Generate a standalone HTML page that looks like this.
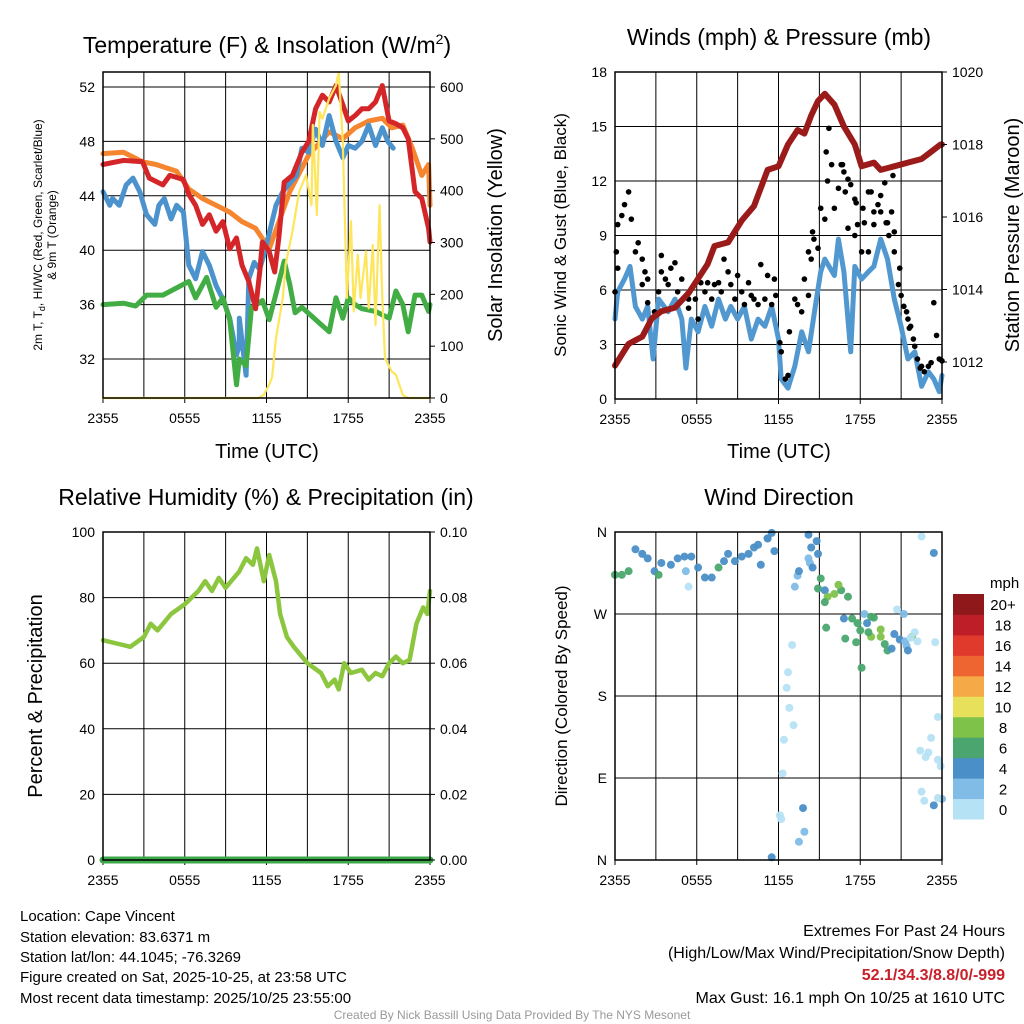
<!DOCTYPE html>
<html><head><meta charset="utf-8">
<style>
html,body{margin:0;padding:0;background:#fff;}
svg{display:block;font-family:"Liberation Sans",sans-serif;}
</style></head>
<body>
<svg id="fig" width="1024" height="1024" viewBox="0 0 1024 1024" xmlns="http://www.w3.org/2000/svg">
<rect width="1024" height="1024" fill="#fff"/>
<g id="layer"></g>
<text x="267" y="53" font-size="23" text-anchor="middle">Temperature (F) &amp; Insolation (W/m<tspan dy="-9" font-size="14">2</tspan><tspan dy="9">)</tspan></text>
<text x="779" y="45" font-size="23" text-anchor="middle">Winds (mph) &amp; Pressure (mb)</text>
<text x="266" y="505" font-size="23" text-anchor="middle">Relative Humidity (%) &amp; Precipitation (in)</text>
<text x="779" y="505" font-size="23" text-anchor="middle">Wind Direction</text>
<text transform="translate(42,235) rotate(-90)" font-size="12" text-anchor="middle">2m T, T<tspan dy="3" font-size="9">d</tspan><tspan dy="-3">, HI/WC (Red, Green, Scarlet/Blue)</tspan></text>
<text transform="translate(56,235) rotate(-90)" font-size="12" text-anchor="middle">&amp; 9m T (Orange)</text>
<text transform="translate(502,235) rotate(-90)" font-size="20" text-anchor="middle">Solar Insolation (Yellow)</text>
<text x="267" y="458" font-size="20" text-anchor="middle">Time (UTC)</text>
<text transform="translate(566,235) rotate(-90)" font-size="17" text-anchor="middle">Sonic Wind &amp; Gust (Blue, Black)</text>
<text transform="translate(1019,235) rotate(-90)" font-size="20" text-anchor="middle">Station Pressure (Maroon)</text>
<text x="779" y="458" font-size="20" text-anchor="middle">Time (UTC)</text>
<text transform="translate(42,696) rotate(-90)" font-size="20" text-anchor="middle">Percent &amp; Precipitation</text>
<text transform="translate(567,696) rotate(-90)" font-size="17" text-anchor="middle">Direction (Colored By Speed)</text>
<text x="990" y="588" font-size="15">mph</text>
<g font-size="15">
<text x="20" y="921">Location: Cape Vincent</text>
<text x="20" y="942">Station elevation: 83.6371 m</text>
<text x="20" y="962">Station lat/lon: 44.1045; -76.3269</text>
<text x="20" y="982">Figure created on Sat, 2025-10-25, at 23:58 UTC</text>
<text x="20" y="1003">Most recent data timestamp: 2025/10/25 23:55:00</text>
</g>
<g font-size="16" text-anchor="end">
<text x="1005" y="936">Extremes For Past 24 Hours</text>
<text x="1005" y="958">(High/Low/Max Wind/Precipitation/Snow Depth)</text>
<text x="1005" y="980" fill="#c8202a" font-weight="bold">52.1/34.3/8.8/0/-999</text>
<text x="1005" y="1003">Max Gust: 16.1 mph On 10/25 at 1610 UTC</text>
</g>
<text x="512" y="1019" font-size="12" fill="#999" text-anchor="middle">Created By Nick Bassill Using Data Provided By The NYS Mesonet</text>
</svg>
<script>
// ---- data ----
const timeTickLabels = ["2355","0555","1155","1755","2355"];
const tempTickLabels = ["32","36","40","44","48","52"];
const tempTickValues = [32,36,40,44,48,52];
const solarTickValues = [0,100,200,300,400,500,600];
const windTickValues = [0,3,6,9,12,15,18];
const presTickValues = [1012,1014,1016,1018,1020];
const rhTickValues = [0,20,40,60,80,100];
const precipTickLabels = ["0.00","0.02","0.04","0.06","0.08","0.10"];
const dirTickLabels = ["N","E","S","W","N"];
const colorbarLabels = ["0","2","4","6","8","10","12","14","16","18","20+"];
const colorbarColors = ["#b6e2f6","#80bce6","#4a8fc7","#4aa66e","#7fc24a","#e6e05a","#f6aa47","#ef6531","#e03a2c","#be1e27","#8f181b"];

const redH = [0,1.5,2.9,3.4,4.4,4.9,5.9,6.3,6.8,7.3,7.8,8.3,8.8,9.3,9.8,10.2,10.7,11.2,11.5,11.7,12.2,12.6,12.9,13.3,13.9,14.6,15.1,15.6,16.1,16.6,17.1,17.6,18.0,18.5,19.0,19.5,20.0,20.5,21.0,21.5,22.0,22.4,22.9,23.4,23.9,24];
const redT = [46.3,46.6,46.5,45.3,44.8,45.5,45.2,44.1,43.3,41.9,42.6,41.4,42.1,40.1,40.9,38.9,37.7,35.7,38.4,40.6,39.9,38.4,40.9,45.0,45.5,47.2,48.0,50.4,51.4,50.9,52.1,50.7,49.5,49.9,50.4,50.4,50.9,52.1,49.5,49.3,49.0,48.2,44.3,43.8,41.6,40.6];
const orangeH = [0,1.5,2.9,3.9,5.4,6.3,7.3,8.3,9.3,10.2,11.2,12.2,13.7,15.1,16.6,17.6,18.5,19.5,20.5,21.2,22.0,22.7,23.4,23.9,24];
const orangeT = [47.1,47.2,46.5,46.3,45.8,44.5,43.8,43.3,42.8,42.1,41.6,40.1,44.3,47.0,48.7,48.2,49.0,49.5,49.7,49.0,49.2,47.5,45.5,46.3,43.3];
const blueH = [0,0.5,0.7,1.2,1.7,2.2,2.7,3.2,3.8,4.1,4.5,5.0,5.4,5.9,6.3,6.8,7.3,7.8,8.3,8.8,9.3,9.8,10.0,10.0,10.5,10.7,11.1,11.5,11.9,12.7,13.2,14.2,14.6,15.1,15.6,16.1,16.6,17.1,17.6,18.0,18.5,19.0,19.5,20.0,20.5,20.9,21.3];
const blueT = [44.3,43.3,43.8,43.3,44.8,45.3,44.3,42.6,41.9,43.3,43.8,42.3,43.3,42.8,38.9,37.9,39.9,38.9,37.4,36.4,35.0,32.3,33.0,35.0,30.8,37.9,39.1,38.6,40.0,43.3,44.3,45.5,47.5,47.2,48.9,47.7,49.9,48.0,46.8,47.7,47.5,48.0,49.2,47.7,49.0,48.0,47.5];
const greenH = [0,1.5,2.4,3.2,4.4,6.3,6.8,7.6,8.3,8.8,9.3,9.8,10.0,10.5,10.9,11.0,11.7,12.2,12.7,13.3,13.7,14.1,14.6,15.6,16.6,17.1,17.6,18.0,18.5,19.0,20.0,21.0,21.5,22.0,22.4,22.9,23.4,23.9,24];
const greenT = [36.0,36.1,35.9,36.7,36.7,37.7,36.5,38.0,35.8,36.5,34.9,30.1,32.0,31.5,35.8,35.8,36.3,34.9,36.8,39.2,37.5,35.4,35.8,34.9,34.0,36.5,35.0,36.5,36.0,35.7,35.5,35.0,37.0,36.0,34.0,36.7,36.7,35.5,36.0];
const solarH = [0,11.4,11.8,12.2,12.4,12.7,13.2,13.4,13.9,14.4,14.9,15.3,15.4,15.7,15.9,16.1,16.6,17.1,17.3,17.6,17.9,18.2,18.4,18.7,18.9,19.3,19.5,19.8,20.0,20.3,20.5,20.7,21.2,21.5,22.0,22.4,24];
const solarW = [0,0,6,26,39,116,193,257,321,398,430,372,527,353,552,539,578,603,629,494,193,341,167,276,193,283,173,295,141,372,193,77,51,45,6,0,0];

const sonicH = [0,0.2,0.7,1.1,1.5,2.0,2.4,2.8,3.2,3.9,4.4,4.9,5.2,5.6,6.1,6.6,7.1,7.6,8.1,8.5,9.0,9.5,10.0,10.5,11.0,11.5,12.0,12.2,12.7,13.2,13.7,14.2,14.7,15.1,15.4,16.1,16.4,16.8,17.3,17.6,18.1,18.6,19.0,19.5,20.0,20.5,21.0,21.5,22.0,22.5,23.0,23.4,23.8,24];
const sonicV = [4.4,5.9,6.6,7.3,5.1,4.4,5.1,2.2,5.5,4.8,5.5,4.4,1.7,4.4,3.7,5.1,4.0,5.5,4.4,5.1,4.4,5.1,3.3,4.4,4.0,5.1,3.3,1.1,0.6,1.8,3.7,2.6,5.1,7.0,7.7,6.8,8.8,7.0,2.6,7.3,6.6,7.0,7.3,8.8,7.7,5.5,4.0,2.2,2.6,0.7,1.5,1.1,0.4,1.3];
const gustH = [0,0.1,0.2,0.5,0.7,1.0,1.2,0.2,1.5,1.7,2.0,2.2,2.0,2.4,2.4,2.9,3.2,3.4,3.4,3.7,3.9,4.1,4.4,4.6,4.9,5.4,5.4,5.9,6.1,6.3,6.6,6.8,7.1,7.3,7.6,7.8,8.0,8.3,8.5,8.8,9.0,9.3,9.5,9.8,10.0,10.2,10.5,10.7,11.0,11.2,11.5,11.7,11.8,12.1,12.2,12.5,12.7,12.8,13.2,13.4,13.7,13.9,14.2,14.2,14.4,14.5,14.6,14.9,15.1,15.4,15.5,15.6,15.9,15.7,16.1,16.4,16.6,16.7,16.8,16.9,17.1,17.3,17.6,17.7,17.1,17.6,17.8,18.1,18.2,18.3,18.6,18.6,18.8,19.0,19.0,19.3,19.5,19.5,19.8,19.9,20.0,20.1,20.3,20.4,20.5,20.5,20.8,20.9,21.0,21.2,21.4,21.5,21.6,21.7,21.9,22.0,22.2,22.4,22.5,22.7,23.0,23.2,23.6,23.4,23.8,24.0];
const gustV = [5.9,8.1,9.6,10.1,10.7,11.4,9.9,7.2,8.1,8.6,7.7,7.0,6.3,6.6,5.3,4.8,5.9,7.9,7.0,6.6,6.3,7.2,7.5,5.9,6.6,5.5,5.0,5.5,4.4,6.4,5.9,6.4,5.5,6.3,6.4,5.9,7.7,7.0,6.3,5.5,6.8,5.9,5.2,6.4,5.7,5.5,5.2,7.4,5.5,6.8,5.2,6.6,5.7,3.1,2.6,1.1,1.3,3.7,5.5,5.2,4.8,6.6,5.7,8.1,7.7,9.2,8.8,8.3,10.5,9.9,13.6,12.0,12.9,14.9,10.5,11.6,12.9,12.9,12.5,11.4,12.1,11.8,11.0,10.8,9.4,9.0,9.6,8.1,10.5,9.7,8.1,11.4,11.4,9.6,10.3,10.7,11.2,10.3,11.9,9.7,9.7,9.0,10.3,12.3,9.2,8.1,6.3,7.2,5.7,5.1,4.8,4.4,3.9,4.0,3.3,2.9,2.2,1.7,1.8,1.5,1.8,2.0,3.5,5.3,2.2,2.1];
const presH = [0,0.5,1.0,2.0,2.7,3.4,4.4,5.4,6.1,6.8,7.3,8.3,9.3,10.2,11.0,11.2,12.0,12.7,13.4,13.9,14.4,14.9,15.4,16.1,16.8,17.6,18.1,19.0,19.5,20.5,21.5,22.5,23.2,23.9,24];
const presMb = [1011.9,1012.2,1012.5,1012.7,1013.2,1013.4,1013.5,1013.9,1014.3,1014.7,1015.2,1015.3,1015.9,1016.3,1017.1,1017.3,1017.4,1018.0,1018.4,1018.3,1018.8,1019.2,1019.4,1019.1,1018.5,1018.0,1017.4,1017.5,1017.3,1017.4,1017.5,1017.6,1017.8,1018.0,1018.0];

const rhH = [0,1,2,3,3.5,4,5,6,7,7.5,8,8.5,9,10,10.5,11,11.3,11.8,12.2,12.7,13,13.5,14,15,16,16.5,17,17.3,17.7,18.2,19,19.5,20,20.5,21,21.5,22,22.5,23,23.5,23.8,24];
const rhPct = [67,66,65,68,72,70,75,78,82,85,82,86,83,88,92,90,95,85,93,85,75,68,65,60,57,53,55,52,60,57,58,55,57,56,60,62,60,61,72,77,75,82];
const precipH = [0,24];
const precipIn = [0,0];

const dirH = [0,0.5,1.0,1.5,2.0,2.4,2.9,3.2,3.4,4.1,4.6,5.1,5.2,5.4,5.6,6.1,6.6,7.1,7.6,8.0,8.3,8.8,9.3,9.8,10.2,10.5,10.7,11.2,11.5,11.7,11.2,12.1,12.2,12.3,12.4,12.8,13.1,12.6,12.7,13.0,13.8,13.9,13.5,11.5,14.2,14.4,14.8,14.9,14.2,14.3,14.5,13.4,13.2,13.5,14.9,15.4,15.1,15.6,16.1,16.6,17.1,15.4,15.5,16.4,16.8,17.4,17.8,18.0,16.9,17.7,18.1,18.3,18.5,18.8,19.0,19.5,18.8,18.6,19.5,19.8,20.0,20.3,20.5,20.9,21.2,21.3,21.4,21.5,21.8,22.0,22.2,21.7,20.7,22.5,23.4,23.5,23.7,23.2,22.4,22.8,23.0,23.7,23.9,22.5,22.7,23.4,24.0,23.7];
const dirDeg = [313,313,317,341,336,331,317,313,326,324,331,333,317,300,333,321,310,310,321,328,336,328,333,336,343,346,324,353,359,339,353,49,45,95,132,167,148,189,206,236,57,31,20,3,357,343,350,336,331,326,321,312,300,317,298,296,309,289,292,296,289,283,255,302,265,265,260,252,243,239,211,270,260,267,266,253,245,250,245,237,230,232,248,242,270,240,235,230,245,250,240,244,275,355,337,239,157,134,120,113,118,110,103,75,65,60,67,68];
const dirSpd = [6.5,6.5,6.5,4.5,4.5,4.5,4.5,6.5,4.5,4.5,4.5,4.5,2.5,0.5,4.5,4.5,4.5,4.5,6.5,4.5,4.5,4.5,4.5,4.5,4.5,4.5,4.5,4.5,4.5,4.5,4.5,0.5,0.5,0.5,0.5,0.5,0.5,0.5,0.5,0.5,4.5,2.5,2.5,4.5,4.5,4.5,4.5,4.5,2.5,2.5,4.5,2.5,2.5,4.5,6.5,4.5,6.5,8.5,8.5,6.5,6.5,6.5,6.5,8.5,4.5,6.5,6.5,6.5,6.5,6.5,6.5,2.5,4.5,6.5,6.5,8.5,8.5,6.5,8.5,6.5,6.5,4.5,4.5,4.5,2.5,2.5,2.5,4.5,8.5,0.5,0.5,0.5,0.5,0.5,4.5,0.5,0.5,0.5,0.5,0.5,0.5,0.5,0.5,0.5,0.5,4.5,2.5,0.5];

// ---- helpers ----
const NS = "http://www.w3.org/2000/svg";
const layer = document.getElementById("layer");
function mk(tag, attrs, parent){
  const e = document.createElementNS(NS, tag);
  for (const k in attrs) e.setAttribute(k, attrs[k]);
  (parent||layer).appendChild(e);
  return e;
}
function lin(d0,d1,r0,r1){ return v => r0 + (v-d0)/(d1-d0)*(r1-r0); }

function frame(p){
  for (let h=3; h<24; h+=3){
    const x = p.x(h);
    const l = mk("line",{x1:x,x2:x,y1:p.top,y2:p.bot,stroke:"#000","stroke-width":1});
    
    
  }
  p.hgrid.forEach(v=>{
    const y = p.yL(v);
    const l = mk("line",{x1:p.left,x2:p.right,y1:y,y2:y,stroke:"#000","stroke-width":1});
    
    
  });
  timeTickLabels.forEach((t,i)=>{
    const x = p.x(i*6);
    const tx = mk("text",{x:x,y:p.bot+25,"font-size":14,"text-anchor":"middle"});
    tx.textContent = t;
    
    
    mk("line",{x1:x,x2:x,y1:p.bot,y2:p.bot+5,stroke:"#000"});
  });
}
function border(p){
  const r = mk("rect",{x:p.left,y:p.top,width:p.right-p.left,height:p.bot-p.top,fill:"none",stroke:"#000","stroke-width":1.5});
  
  
}
function leftLabels(p, vals, labels, scale){
  vals.forEach((v,i)=>{
    const y = scale(v);
    const t = mk("text",{x:p.left-8,y:y+5,"font-size":14,"text-anchor":"end"});
    t.textContent = labels[i];
    
    
  });
}
function rightLabels(p, vals, labels, scale){
  vals.forEach((v,i)=>{
    const y = scale(v);
    mk("line",{x1:p.right,x2:p.right+5,y1:y,y2:y,stroke:"#000"});
    const t = mk("text",{x:p.right+10,y:y+5,"font-size":14});
    t.textContent = labels[i];
    
    
  });
}
function line(p, hs, vs, ys, color, w, name){
  const pts = hs.map((h,i)=> p.x(h).toFixed(1)+","+ys(vs[i]).toFixed(1)).join(" ");
  const pl = mk("polyline",{points:pts,fill:"none",stroke:color,"stroke-width":w,"stroke-linejoin":"round","stroke-linecap":"round"});
  
  
}

// ---- panel 1 ----
const p1 = {left:103,right:430,top:72,bot:398};
p1.x = lin(0,24,p1.left,p1.right);
p1.yL = lin(32,52,359,87);
p1.yR = lin(0,600,398,87);
p1.hgrid = tempTickValues;
frame(p1);
leftLabels(p1,tempTickValues,tempTickLabels,p1.yL);
line(p1,orangeH,orangeT,p1.yL,"#f5852f",5,"series-9m-temp-orange");
line(p1,blueH,blueT,p1.yL,"#4c93cd",5,"series-windchill-blue");
line(p1,greenH,greenT,p1.yL,"#43ad45",5,"series-dewpoint-green");
line(p1,redH,redT,p1.yL,"#d42629",5,"series-2m-temp-red");
line(p1,solarH,solarW,p1.yR,"#fde55c",2.2,"series-solar-insolation");
rightLabels(p1,solarTickValues,solarTickValues.map(String),p1.yR);
border(p1);

// ---- panel 2 ----
const p2 = {left:615,right:942,top:72,bot:399};
p2.x = lin(0,24,p2.left,p2.right);
p2.yL = lin(0,18,399,72);
p2.yR = lin(1012,1020,362,72);
p2.hgrid = windTickValues;
frame(p2);
leftLabels(p2,windTickValues,windTickValues.map(String),p2.yL);
line(p2,sonicH,sonicV,p2.yL,"#5298d0",5,"series-sonic-wind");
gustH.forEach((h,i)=>{
  const c = mk("circle",{cx:p2.x(h),cy:p2.yL(gustV[i]),r:2.8,fill:"#000"});
  
  
});
line(p2,presH,presMb,p2.yR,"#9b1b1b",6,"series-station-pressure");
rightLabels(p2,presTickValues,presTickValues.map(String),p2.yR);
border(p2);

// ---- panel 3 ----
const p3 = {left:103,right:430,top:532,bot:860};
p3.x = lin(0,24,p3.left,p3.right);
p3.yL = lin(0,100,860,532);
p3.yR = lin(0,0.1,860,532);
p3.hgrid = rhTickValues;
frame(p3);
leftLabels(p3,rhTickValues,rhTickValues.map(String),p3.yL);
line(p3,rhH,rhPct,p3.yL,"#8cc63f",4.5,"series-relative-humidity");
line(p3,precipH,precipIn,p3.yR,"#3da84b",7,"series-precipitation");
rightLabels(p3,[0,0.02,0.04,0.06,0.08,0.1],precipTickLabels,p3.yR);
border(p3);

// ---- panel 4 ----
const p4 = {left:615,right:942,top:532,bot:860};
p4.x = lin(0,24,p4.left,p4.right);
p4.yL = lin(0,360,860,532);
p4.hgrid = [0,90,180,270,360];
frame(p4);
leftLabels(p4,[0,90,180,270,360],dirTickLabels,p4.yL);
dirH.forEach((h,i)=>{
  const idx = Math.min(10, Math.floor(dirSpd[i]/2));
  const c = mk("circle",{cx:p4.x(h),cy:p4.yL(dirDeg[i]),r:4,fill:colorbarColors[idx],"fill-opacity":0.95});
  
  
});
border(p4);

// colorbar
const cbTop = 594, cbBot = 819, cbH = (cbBot-cbTop)/colorbarColors.length;
colorbarColors.forEach((col,i)=>{
  const y = cbBot - (i+1)*cbH;
  const r = mk("rect",{x:953,y:y,width:31,height:cbH+0.5,fill:col});
  
  
  const t = mk("text",{x:1003,y:y+cbH/2+6,"font-size":15,"text-anchor":"middle"});
  t.textContent = colorbarLabels[i];
  
  
});
</script>
</body></html>
